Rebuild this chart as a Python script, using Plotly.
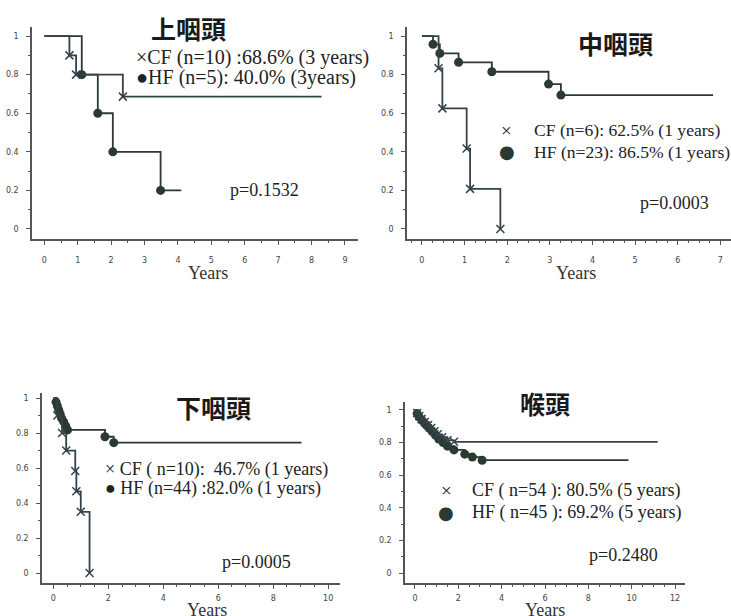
import plotly.graph_objects as go

W, H = 731, 616

# ---------------- data ----------------
titles = ["上咽頭", "中咽頭", "下咽頭", "喉頭"]
cf_labels = ["×CF (n=10) :68.6% (3 years)", "CF (n=6): 62.5% (1 years)",
             "× CF ( n=10):  46.7% (1 years)", "CF ( n=54 ): 80.5% (5 years)"]
hf_labels = ["●HF (n=5): 40.0% (3years)", "HF (n=23): 86.5% (1 years)",
             "● HF (n=44) :82.0% (1 years)", "HF ( n=45 ): 69.2% (5 years)"]
p_labels = ["p=0.1532", "p=0.0003", "p=0.0005", "p=0.2480"]

# panel 1: 上咽頭
p1_cf_t = [0, 0.75, 0.95, 2.35, 8.3]
p1_cf_s = [1, 0.9, 0.8, 0.686, 0.686]
p1_hf_t = [0, 1.12, 1.6, 2.05, 3.48, 4.1]
p1_hf_s = [1, 0.8, 0.6, 0.4, 0.2, 0.2]
p1_xticks = [0, 1, 2, 3, 4, 5, 6, 7, 8, 9]

# panel 2: 中咽頭
p2_cf_t = [0, 0.39, 0.48, 1.05, 1.13, 1.84]
p2_cf_s = [1, 0.833, 0.625, 0.417, 0.208, 0]
p2_hf_t = [0, 0.26, 0.42, 0.86, 1.64, 2.97, 3.26, 6.83]
p2_hf_s = [1, 0.957, 0.91, 0.864, 0.815, 0.751, 0.694, 0.694]
p2_xticks = [0, 1, 2, 3, 4, 5, 6, 7]

# panel 3: 下咽頭
p3_cf_t = [0, 0.15, 0.32, 0.47, 0.8, 0.84, 1.0, 1.32]
p3_cf_s = [1, 0.9, 0.8, 0.7, 0.583, 0.467, 0.35, 0]
p3_hf_t = [0, 0.1, 0.15, 0.2, 0.25, 0.3, 0.38, 0.45, 0.52, 1.88, 2.2, 9.03]
p3_hf_s = [1, 0.977, 0.955, 0.932, 0.909, 0.886, 0.864, 0.841, 0.818, 0.779, 0.745, 0.745]
p3_xticks = [0, 2, 4, 6, 8, 10]

# panel 4: 喉頭
p4_cf_t = [0, 0.1, 0.2, 0.3, 0.45, 0.6, 0.75, 0.9, 1.05, 1.25, 1.5, 1.8, 11.2]
p4_cf_s = [1, 0.981, 0.963, 0.944, 0.926, 0.907, 0.889, 0.87, 0.851, 0.833, 0.814, 0.805, 0.805]
p4_hf_t = [0, 0.1, 0.2, 0.35, 0.5, 0.65, 0.8, 0.95, 1.1, 1.3, 1.5, 1.8, 2.3, 2.65, 3.1, 9.85]
p4_hf_s = [1, 0.978, 0.956, 0.933, 0.911, 0.889, 0.867, 0.844, 0.822, 0.8, 0.778, 0.755, 0.729, 0.711, 0.692, 0.692]
p4_xticks = [0, 2, 4, 6, 8, 10, 12]

y_ticks = [0, 0.2, 0.4, 0.6, 0.8, 1]
y_ticktext = ["0", "0.2", "0.4", "0.6", "0.8", "1"]

# ---------------- layout geometry (pixels) ----------------
panels = [
    dict(px=(32, 358, 27, 239), xr=(-0.37, 9.39), yr=(-0.052, 1.047), mdx=0.5, xso=9,
         cf=(p1_cf_t, p1_cf_s), hf=(p1_hf_t, p1_hf_s), xt=p1_xticks,
         title=(188, 28), cfl=(134, 57), hfl=(134, 77), sym=None, lfs=20,
         p=(228, 190), years=(208, 273)),
    dict(px=(407, 731, 27, 239), xr=(-0.35, 7.25), yr=(-0.052, 1.047), mdx=0.25, xso=9,
         cf=(p2_cf_t, p2_cf_s), hf=(p2_hf_t, p2_hf_s), xt=p2_xticks,
         title=(615, 43), cfl=(532, 130), hfl=(532, 152), sym=(506, 507), lfs=17.6,
         p=(638, 203), years=(576, 273)),
    dict(px=(42, 340, 393, 583), xr=(-0.41, 10.43), yr=(-0.057, 1.029), mdx=0.5, xso=3,
         cf=(p3_cf_t, p3_cf_s), hf=(p3_hf_t, p3_hf_s), xt=p3_xticks,
         title=(213, 407), cfl=(103, 469), hfl=(103, 488), sym=None, lfs=18,
         p=(220, 562), years=(207, 610)),
    dict(px=(405, 685, 402, 583), xr=(-0.46, 12.46), yr=(-0.061, 1.049), mdx=0.5, xso=3,
         cf=(p4_cf_t, p4_cf_s), hf=(p4_hf_t, p4_hf_s), xt=p4_xticks,
         title=(545, 403), cfl=(470, 490), hfl=(470, 512), sym=(447, 446), lfs=18,
         p=(587, 555), years=(545, 610)),
]

LINE = "#2e3833"
CFC = "#34424a"
DOT = "#2b3a31"
AX = "#555555"
SERIF = "Liberation Serif, Times New Roman, serif"
CJK = "Noto Sans CJK JP"

fig = go.Figure()
annotations = []
layout_axes = {}


def ann(px, py, text, size, family=SERIF, xanchor="left", color="#222"):
    annotations.append(dict(x=px / W, y=1 - py / H, xref="paper", yref="paper",
                            text=text, showarrow=False,
                            xanchor=xanchor, yanchor="middle",
                            font=dict(family=family, size=size, color=color)))


for i, pn in enumerate(panels):
    n = "" if i == 0 else str(i + 1)
    xa, ya = "x" + n, "y" + n
    l, r, t, b = pn["px"]
    layout_axes["xaxis" + n] = dict(
        domain=[l / W, r / W], range=list(pn["xr"]), anchor=ya,
        tickvals=pn["xt"], ticks="outside", ticklen=4, tickwidth=1, tickcolor=AX,
        ticklabelstandoff=pn["xso"],
        showline=True, linecolor=AX, linewidth=1.5, showgrid=False, zeroline=False,
        tickfont=dict(family="DejaVu Sans", size=8, color="#444"),
        minor=dict(dtick=pn["mdx"], tick0=0, ticks="outside", ticklen=2, tickcolor=AX),
    )
    layout_axes["yaxis" + n] = dict(
        domain=[1 - b / H, 1 - t / H], range=list(pn["yr"]), anchor=xa,
        tickvals=y_ticks, ticktext=y_ticktext, ticks="outside", ticklen=4,
        ticklabelstandoff=6,
        tickcolor=AX, showline=True, linecolor=AX, linewidth=1.5,
        showgrid=False, zeroline=False,
        tickfont=dict(family="DejaVu Sans", size=8, color="#444"),
        minor=dict(dtick=0.1, tick0=0, ticks="outside", ticklen=2, tickcolor=AX),
    )

    for key, col in (("hf", LINE), ("cf", CFC)):
        tt, ss = pn[key]
        fig.add_trace(go.Scatter(x=tt, y=ss, mode="lines", line_shape="hv",
                                 line=dict(color=col, width=1.8),
                                 xaxis=xa, yaxis=ya, showlegend=False, hoverinfo="skip"))
        mx = [tt[k] for k in range(1, len(tt)) if ss[k] != ss[k - 1]]
        my = [ss[k] for k in range(1, len(tt)) if ss[k] != ss[k - 1]]
        if key == "hf":
            mk = dict(symbol="circle", size=9, color=DOT)
        else:
            mk = dict(symbol="x-thin-open", size=8, color=CFC,
                      line=dict(color=CFC, width=1.5))
        fig.add_trace(go.Scatter(x=mx, y=my, mode="markers", marker=mk,
                                 xaxis=xa, yaxis=ya, showlegend=False, hoverinfo="skip"))

    ann(*pn["title"], "<b>" + titles[i] + "</b>", 25, CJK, "center", "#1a1a1a")
    ann(*pn["cfl"], cf_labels[i], pn["lfs"])
    ann(*pn["hfl"], hf_labels[i], pn["lfs"])
    if pn["sym"] is not None:
        ann(pn["sym"][0], pn["cfl"][1], "×", 19, SERIF, "center")
        ann(pn["sym"][1], pn["hfl"][1], "●", 18, "DejaVu Sans", "center", DOT)
    ann(*pn["p"], p_labels[i], 18)
    ann(*pn["years"], "Years", 18, SERIF, "center", "#333")

fig.update_layout(width=W, height=H, margin=dict(l=0, r=0, t=0, b=0),
                  paper_bgcolor="white", plot_bgcolor="white",
                  annotations=annotations, **layout_axes)
fig.write_html("out.html", config={"displayModeBar": False},
               post_script="document.body.style.margin='0';document.body.style.overflow='hidden';")
